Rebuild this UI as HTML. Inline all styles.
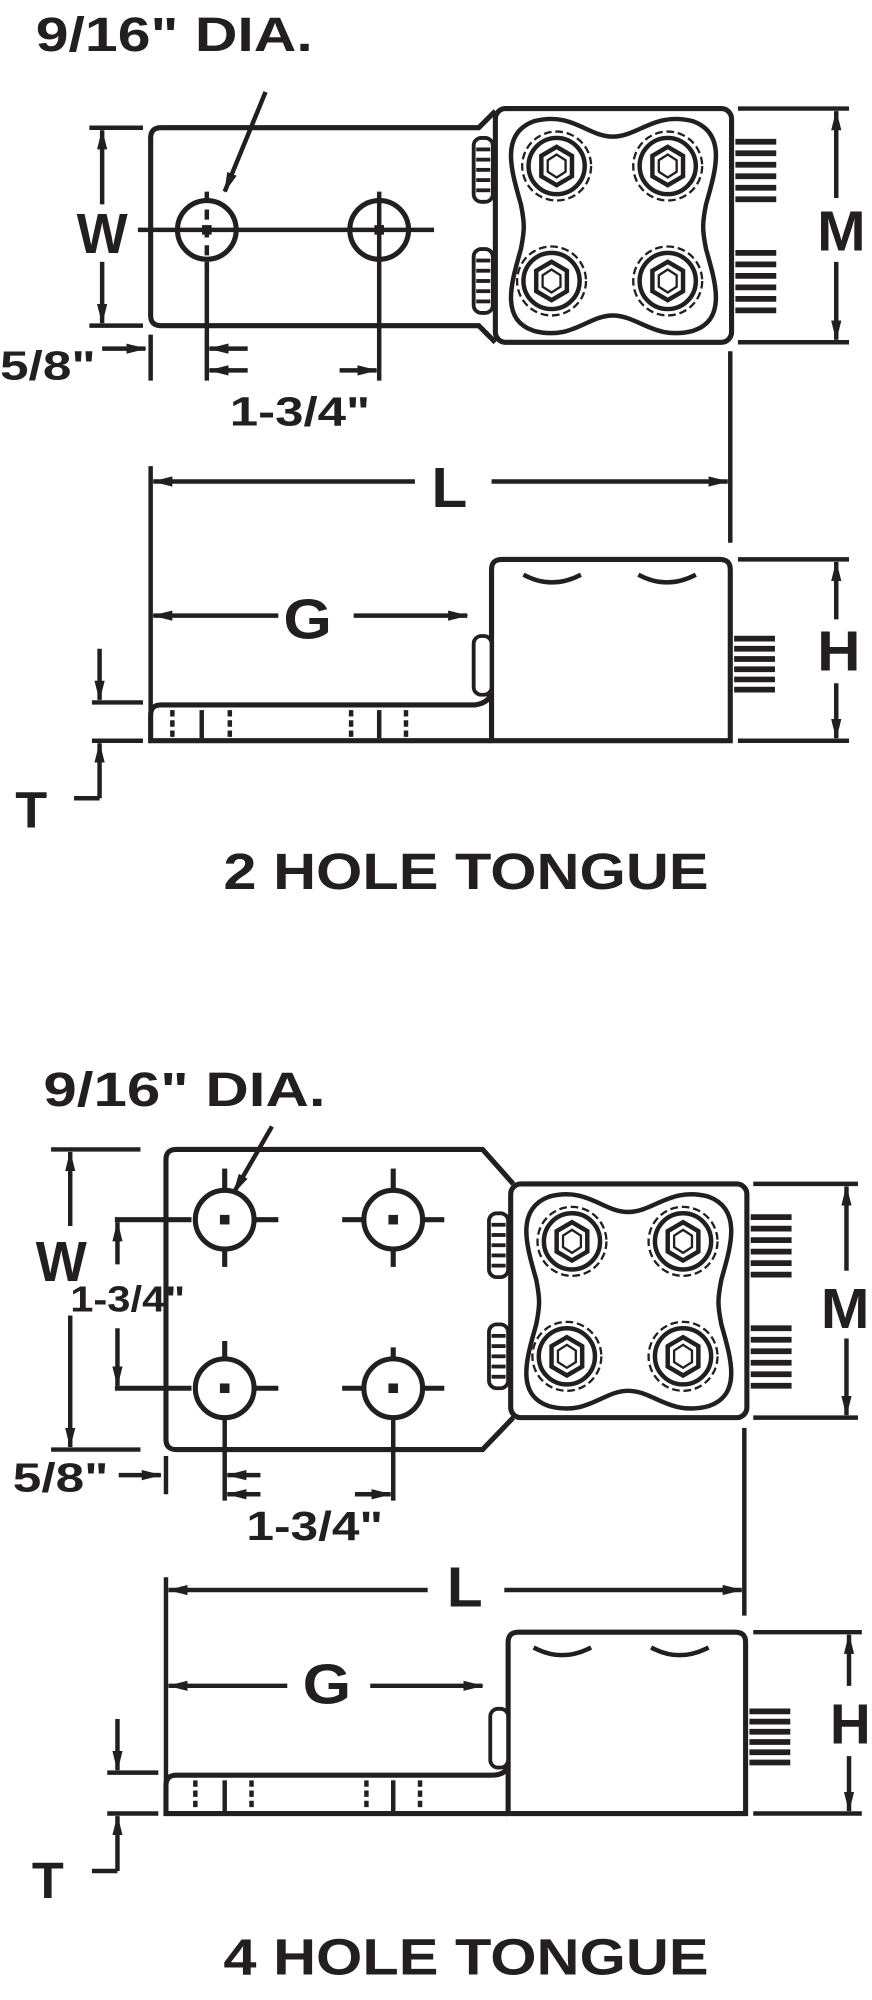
<!DOCTYPE html>
<html><head><meta charset="utf-8"><style>
html,body{margin:0;padding:0;background:#fff;}
svg{display:block;}
text{font-family:"Liberation Sans",Arial,sans-serif;font-weight:bold;fill:#231f20;}
</style></head><body>
<svg width="872" height="2000" viewBox="0 0 683 1566" preserveAspectRatio="none" xmlns="http://www.w3.org/2000/svg">
<defs>
<marker id="a" markerWidth="16" markerHeight="10" refX="15" refY="5" orient="auto" markerUnits="userSpaceOnUse"><path d="M0,1 L16,5 L0,9 Z" fill="#231f20"/></marker>
<g id="screw">
<circle r="27" fill="none" stroke="#231f20" stroke-width="1.8" stroke-dasharray="6,3"/>
<circle r="22" fill="none" stroke="#231f20" stroke-width="3.5"/>
<path d="M0,-15 L12,-8 L12,8 L0,15 L-12,8 L-12,-8 Z" fill="none" stroke="#231f20" stroke-width="3.5"/>
<path d="M0,-9 L7,-4.5 L7,4.5 L0,9 L-7,4.5 L-7,-4.5 Z" fill="none" stroke="#231f20" stroke-width="1.8"/>
</g>
<g id="body">
<rect x="0" y="0" width="185" height="183" rx="8" fill="#fff" stroke="#231f20" stroke-width="4"/>
<path d="M30,10 C60,2 72,22 92,22 C112,22 125,2 155,10 C182,20 172,50 165,75 C162,90 162,95 165,110 C172,135 182,165 155,174 C125,182 112,162 92,162 C72,162 60,182 30,174 C3,165 13,135 20,110 C23,95 23,90 20,75 C13,50 3,20 30,10 Z" fill="none" stroke="#231f20" stroke-width="3.5"/>
<use href="#screw" x="48" y="45"/><use href="#screw" x="135" y="45"/>
<use href="#screw" x="44" y="135"/><use href="#screw" x="135" y="135"/>
<g stroke="#231f20" stroke-width="4.5">
<line x1="188" y1="26" x2="220" y2="26"/><line x1="188" y1="35" x2="220" y2="35"/><line x1="188" y1="44" x2="220" y2="44"/><line x1="188" y1="53" x2="220" y2="53"/><line x1="188" y1="62" x2="220" y2="62"/><line x1="188" y1="71" x2="220" y2="71"/>
<line x1="188" y1="113" x2="220" y2="113"/><line x1="188" y1="122" x2="220" y2="122"/><line x1="188" y1="131" x2="220" y2="131"/><line x1="188" y1="140" x2="220" y2="140"/><line x1="188" y1="149" x2="220" y2="149"/><line x1="188" y1="158" x2="220" y2="158"/>
</g>
<rect x="-17" y="23" width="15" height="50" rx="6" fill="#fff" stroke="#231f20" stroke-width="3"/>
<rect x="-17" y="110" width="15" height="50" rx="6" fill="#fff" stroke="#231f20" stroke-width="3"/>
<g stroke="#231f20" stroke-width="3"><line x1="-15" y1="32" x2="-4" y2="32"/><line x1="-15" y1="40" x2="-4" y2="40"/><line x1="-15" y1="48" x2="-4" y2="48"/><line x1="-15" y1="56" x2="-4" y2="56"/><line x1="-15" y1="64" x2="-4" y2="64"/><line x1="-15" y1="119" x2="-4" y2="119"/><line x1="-15" y1="127" x2="-4" y2="127"/><line x1="-15" y1="135" x2="-4" y2="135"/><line x1="-15" y1="143" x2="-4" y2="143"/><line x1="-15" y1="151" x2="-4" y2="151"/></g>
</g>
<g id="hole">
<circle r="23" fill="none" stroke="#231f20" stroke-width="4"/>
<rect x="-2" y="-2" width="4" height="4" fill="#231f20"/>
</g>
</defs>
<g fill="none" stroke="#231f20" stroke-width="3.5">
<!-- TOP DRAWING -->
<text x="28" y="40" font-size="38" textLength="217" lengthAdjust="spacingAndGlyphs" stroke="none">9/16" DIA.</text>
<line x1="208" y1="72" x2="176" y2="150" marker-end="url(#a)"/>
<path d="M126,100 L375,100 L388,87 M388,268 L375,255 L126,255 Q118,255 118,247 L118,108 Q118,100 126,100" stroke-width="4"/>
<use href="#body" x="388" y="85"/>
<use href="#hole" x="162" y="180"/><use href="#hole" x="297" y="180"/>
<line x1="108" y1="180" x2="340" y2="180"/>
<line x1="162" y1="150" x2="162" y2="210" stroke-dasharray="8,6"/>
<line x1="297" y1="150" x2="297" y2="298"/>
<line x1="162" y1="205" x2="162" y2="298"/>
<line x1="70" y1="100" x2="112" y2="100"/><line x1="70" y1="255" x2="112" y2="255"/>
<line x1="80" y1="160" x2="80" y2="102" marker-end="url(#a)"/><line x1="80" y1="205" x2="80" y2="253" marker-end="url(#a)"/>
<text x="60" y="198" font-size="44" textLength="40" lengthAdjust="spacingAndGlyphs" stroke="none">W</text>
<line x1="118" y1="262" x2="118" y2="298"/>
<text x="0" y="297" font-size="32" textLength="75" lengthAdjust="spacingAndGlyphs" stroke="none">5/8"</text>
<line x1="80" y1="273" x2="114" y2="273" marker-end="url(#a)"/>
<line x1="194" y1="273" x2="164" y2="273" marker-end="url(#a)"/>
<line x1="194" y1="290" x2="164" y2="290" marker-end="url(#a)"/>
<line x1="266" y1="290" x2="295" y2="290" marker-end="url(#a)"/>
<text x="180" y="333" font-size="32" textLength="110" lengthAdjust="spacingAndGlyphs" stroke="none">1-3/4"</text>
<line x1="578" y1="85" x2="665" y2="85"/><line x1="578" y1="268" x2="665" y2="268"/>
<line x1="655" y1="155" x2="655" y2="87" marker-end="url(#a)"/><line x1="655" y1="205" x2="655" y2="266" marker-end="url(#a)"/>
<text x="640" y="196" font-size="44" textLength="38" lengthAdjust="spacingAndGlyphs" stroke="none">M</text>
<line x1="572" y1="275" x2="572" y2="425"/>
<line x1="118" y1="365" x2="118" y2="580"/>
<line x1="325" y1="377" x2="120" y2="377" marker-end="url(#a)"/><line x1="385" y1="377" x2="570" y2="377" marker-end="url(#a)"/>
<text x="338" y="397" font-size="44" textLength="28" lengthAdjust="spacingAndGlyphs" stroke="none">L</text>
<path d="M385,580 L385,446 Q385,438 393,438 L564,438 Q572,438 572,446 L572,580 Z" stroke-width="4"/>
<path d="M385,540 Q385,550 372,552 L126,552 Q118,552 118,560 L118,580 L385,580" stroke-width="4"/>
<path d="M410,450 Q432,462 455,450 M500,450 Q522,462 545,450"/>
<rect x="371" y="498" width="14" height="46" rx="6" fill="#fff" stroke-width="3"/>
<g stroke-width="4.5"><line x1="575" y1="500" x2="607" y2="500"/><line x1="575" y1="508" x2="607" y2="508"/><line x1="575" y1="516" x2="607" y2="516"/><line x1="575" y1="524" x2="607" y2="524"/><line x1="575" y1="532" x2="607" y2="532"/><line x1="575" y1="540" x2="607" y2="540"/></g>
<line x1="135" y1="556" x2="135" y2="578" stroke-dasharray="5,3"/><line x1="158" y1="556" x2="158" y2="578"/><line x1="180" y1="556" x2="180" y2="578" stroke-dasharray="5,3"/>
<line x1="275" y1="556" x2="275" y2="578" stroke-dasharray="5,3"/><line x1="297" y1="556" x2="297" y2="578"/><line x1="318" y1="556" x2="318" y2="578" stroke-dasharray="5,3"/>
<line x1="218" y1="482" x2="120" y2="482" marker-end="url(#a)"/><line x1="277" y1="482" x2="366" y2="482" marker-end="url(#a)"/>
<text x="222" y="500" font-size="44" textLength="38" lengthAdjust="spacingAndGlyphs" stroke="none">G</text>
<line x1="578" y1="438" x2="665" y2="438"/><line x1="578" y1="580" x2="665" y2="580"/>
<line x1="655" y1="485" x2="655" y2="440" marker-end="url(#a)"/><line x1="655" y1="535" x2="655" y2="578" marker-end="url(#a)"/>
<text x="640" y="525" font-size="44" textLength="34" lengthAdjust="spacingAndGlyphs" stroke="none">H</text>
<line x1="72" y1="550" x2="112" y2="550"/><line x1="72" y1="580" x2="112" y2="580"/>
<line x1="78" y1="508" x2="78" y2="548" marker-end="url(#a)"/>
<line x1="78" y1="625" x2="78" y2="582" marker-end="url(#a)"/>
<line x1="58" y1="625" x2="78" y2="625"/>
<text x="12" y="648" font-size="40" textLength="25" lengthAdjust="spacingAndGlyphs" stroke="none">T</text>
<text x="175" y="696" font-size="40" textLength="380" lengthAdjust="spacingAndGlyphs" stroke="none">2 HOLE TONGUE</text>

<!-- BOTTOM DRAWING -->
<text x="34" y="866" font-size="38" textLength="221" lengthAdjust="spacingAndGlyphs" stroke="none">9/16" DIA.</text>
<line x1="213" y1="882" x2="183" y2="934" marker-end="url(#a)"/>
<path d="M138,900 L378,900 L402,927 M402,1110 L378,1135 L138,1135 Q130,1135 130,1127 L130,908 Q130,900 138,900" stroke-width="4"/>
<use href="#body" x="400" y="927"/>
<use href="#hole" x="176" y="955"/><use href="#hole" x="308" y="955"/>
<use href="#hole" x="176" y="1087"/><use href="#hole" x="308" y="1087"/>
<g stroke-width="4">
<line x1="90" y1="955" x2="150" y2="955"/><line x1="200" y1="955" x2="218" y2="955"/><line x1="268" y1="955" x2="286" y2="955"/><line x1="330" y1="955" x2="348" y2="955"/>
<line x1="90" y1="1087" x2="150" y2="1087"/><line x1="200" y1="1087" x2="218" y2="1087"/><line x1="268" y1="1087" x2="286" y2="1087"/><line x1="330" y1="1087" x2="348" y2="1087"/>
<line x1="176" y1="915" x2="176" y2="932"/><line x1="176" y1="977" x2="176" y2="992"/><line x1="308" y1="915" x2="308" y2="932"/><line x1="308" y1="977" x2="308" y2="992"/>
<line x1="176" y1="1050" x2="176" y2="1065"/><line x1="308" y1="1055" x2="308" y2="1065"/>
</g>
<line x1="176" y1="1110" x2="176" y2="1175"/><line x1="308" y1="1110" x2="308" y2="1175"/>
<line x1="40" y1="900" x2="110" y2="900"/><line x1="40" y1="1135" x2="110" y2="1135"/>
<line x1="55" y1="960" x2="55" y2="902" marker-end="url(#a)"/><line x1="55" y1="1030" x2="55" y2="1133" marker-end="url(#a)"/>
<text x="28" y="1003" font-size="44" textLength="40" lengthAdjust="spacingAndGlyphs" stroke="none">W</text>
<line x1="92" y1="990" x2="92" y2="957" marker-end="url(#a)"/><line x1="92" y1="1040" x2="92" y2="1085" marker-end="url(#a)"/>
<text x="55" y="1027" font-size="28" textLength="90" lengthAdjust="spacingAndGlyphs" stroke="none">1-3/4"</text>
<line x1="130" y1="1140" x2="130" y2="1170"/>
<text x="10" y="1168" font-size="32" textLength="75" lengthAdjust="spacingAndGlyphs" stroke="none">5/8"</text>
<line x1="93" y1="1155" x2="126" y2="1155" marker-end="url(#a)"/>
<line x1="204" y1="1155" x2="178" y2="1155" marker-end="url(#a)"/>
<line x1="204" y1="1170" x2="178" y2="1170" marker-end="url(#a)"/>
<line x1="278" y1="1170" x2="306" y2="1170" marker-end="url(#a)"/>
<text x="193" y="1206" font-size="32" textLength="107" lengthAdjust="spacingAndGlyphs" stroke="none">1-3/4"</text>
<line x1="590" y1="927" x2="672" y2="927"/><line x1="590" y1="1110" x2="672" y2="1110"/>
<line x1="663" y1="995" x2="663" y2="929" marker-end="url(#a)"/><line x1="663" y1="1048" x2="663" y2="1108" marker-end="url(#a)"/>
<text x="643" y="1040" font-size="44" textLength="38" lengthAdjust="spacingAndGlyphs" stroke="none">M</text>
<line x1="583" y1="1118" x2="583" y2="1265"/>
<line x1="130" y1="1235" x2="130" y2="1420"/>
<line x1="335" y1="1245" x2="132" y2="1245" marker-end="url(#a)"/><line x1="395" y1="1245" x2="581" y2="1245" marker-end="url(#a)"/>
<text x="350" y="1258" font-size="44" textLength="28" lengthAdjust="spacingAndGlyphs" stroke="none">L</text>
<path d="M398,1420 L398,1286 Q398,1278 406,1278 L576,1278 Q584,1278 584,1286 L584,1420 Z" stroke-width="4"/>
<path d="M398,1380 Q398,1390 385,1390 L138,1390 Q130,1390 130,1398 L130,1420 L398,1420" stroke-width="4"/>
<path d="M418,1290 Q440,1302 463,1290 M510,1290 Q532,1302 555,1290"/>
<rect x="384" y="1338" width="14" height="46" rx="6" fill="#fff" stroke-width="3"/>
<g stroke-width="4.5"><line x1="587" y1="1340" x2="619" y2="1340"/><line x1="587" y1="1348" x2="619" y2="1348"/><line x1="587" y1="1356" x2="619" y2="1356"/><line x1="587" y1="1364" x2="619" y2="1364"/><line x1="587" y1="1372" x2="619" y2="1372"/><line x1="587" y1="1380" x2="619" y2="1380"/></g>
<line x1="153" y1="1394" x2="153" y2="1418" stroke-dasharray="5,3"/><line x1="176" y1="1394" x2="176" y2="1418"/><line x1="197" y1="1394" x2="197" y2="1418" stroke-dasharray="5,3"/>
<line x1="287" y1="1394" x2="287" y2="1418" stroke-dasharray="5,3"/><line x1="308" y1="1394" x2="308" y2="1418"/><line x1="329" y1="1394" x2="329" y2="1418" stroke-dasharray="5,3"/>
<line x1="225" y1="1320" x2="132" y2="1320" marker-end="url(#a)"/><line x1="290" y1="1320" x2="378" y2="1320" marker-end="url(#a)"/>
<text x="237" y="1334" font-size="44" textLength="38" lengthAdjust="spacingAndGlyphs" stroke="none">G</text>
<line x1="590" y1="1278" x2="675" y2="1278"/><line x1="590" y1="1420" x2="675" y2="1420"/>
<line x1="665" y1="1320" x2="665" y2="1280" marker-end="url(#a)"/><line x1="665" y1="1375" x2="665" y2="1418" marker-end="url(#a)"/>
<text x="650" y="1365" font-size="44" textLength="32" lengthAdjust="spacingAndGlyphs" stroke="none">H</text>
<line x1="84" y1="1388" x2="124" y2="1388"/><line x1="84" y1="1420" x2="124" y2="1420"/>
<line x1="92" y1="1346" x2="92" y2="1386" marker-end="url(#a)"/>
<line x1="92" y1="1465" x2="92" y2="1422" marker-end="url(#a)"/>
<line x1="72" y1="1465" x2="92" y2="1465"/>
<text x="25" y="1486" font-size="40" textLength="25" lengthAdjust="spacingAndGlyphs" stroke="none">T</text>
<text x="175" y="1546" font-size="40" textLength="380" lengthAdjust="spacingAndGlyphs" stroke="none">4 HOLE TONGUE</text>
</g>
</svg>
</body></html>
